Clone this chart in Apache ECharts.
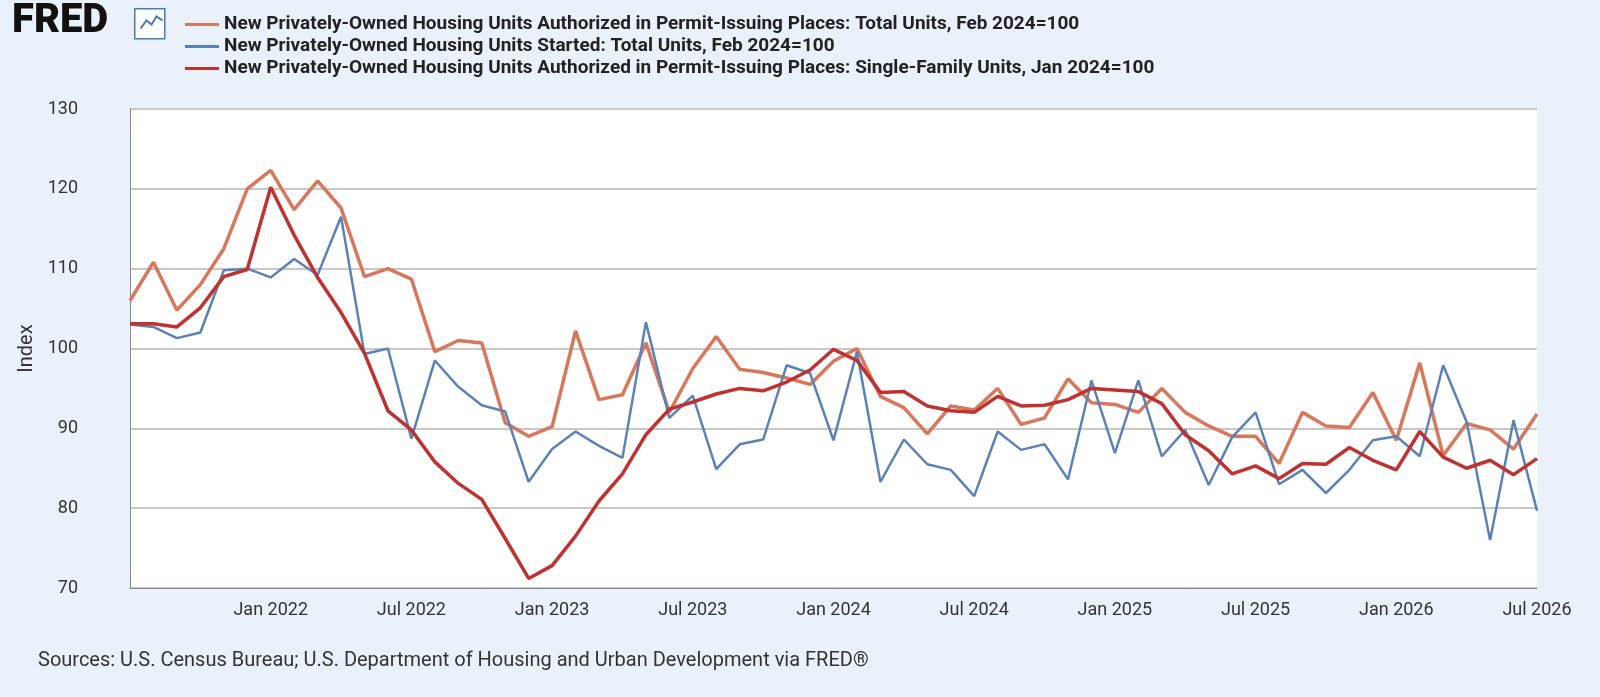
<!DOCTYPE html>
<html><head><meta charset="utf-8">
<script src="https://cdn.jsdelivr.net/npm/echarts@6/dist/echarts.min.js"></script>
<style>html,body{margin:0;padding:0;background:#eaf1fa}#c{width:1600px;height:697px}</style>
</head><body><div id="c"></div>
<script>
const months = ['Jan','Feb','Mar','Apr','May','Jun','Jul','Aug','Sep','Oct','Nov','Dec'];
const categories = [];
for (let y = 2021; y <= 2026; y++) for (let m = 0; m < 12; m++) {
  if ((y === 2021 && m < 6) || (y === 2026 && m > 6)) continue;
  categories.push(months[m] + ' ' + y);
}
const permitsTotal = [106,110.8,104.8,108,112.5,120,122.3,117.4,121,117.6,109,110,108.7,99.6,101,100.7,90.7,89,90.2,102.2,93.6,94.2,100.7,92,97.5,101.5,97.4,97,96.3,95.5,98.4,100,94,92.6,89.3,92.8,92.3,95,90.5,91.3,96.2,93.2,93,92,95,92,90.3,89,89,85.6,92,90.3,90.1,94.5,88.5,98.2,86.6,90.6,89.8,87.4,91.8];
const startsTotal = [103,102.7,101.3,102,109.8,110,108.9,111.2,109.2,116.5,99.3,100,88.7,98.5,95.2,92.9,92.1,83.3,87.4,89.6,87.8,86.3,103.3,91.3,94.1,84.9,88,88.6,97.9,96.9,88.5,99.6,83.3,88.6,85.5,84.8,81.5,89.6,87.3,88,83.6,96,86.9,96,86.5,89.8,82.9,88.9,92,83,84.8,81.9,84.8,88.5,89,86.5,97.9,90.8,76,91,79.7];
const permitsSF = [103.1,103.1,102.7,105.1,109,109.9,120.2,114.2,108.9,104.5,99.4,92.2,89.8,85.8,83.1,81.1,76.2,71.2,72.8,76.5,80.9,84.3,89.2,92.4,93.3,94.3,95,94.7,95.8,97.3,99.9,98.5,94.5,94.6,92.8,92.2,92,94,92.8,92.9,93.6,95,94.8,94.6,93.1,89.2,87.2,84.3,85.3,83.7,85.6,85.5,87.6,86,84.8,89.6,86.4,85,86,84.2,86.2];
const names = ['New Privately-Owned Housing Units Authorized in Permit-Issuing Places: Total Units, Feb 2024=100',
  'New Privately-Owned Housing Units Started: Total Units, Feb 2024=100',
  'New Privately-Owned Housing Units Authorized in Permit-Issuing Places: Single-Family Units, Jan 2024=100'];
const colors = ['#d9775a','#5b82b8','#c0322f'];
const chart = echarts.init(document.getElementById('c'));
const mk = (i, d, w) => ({name: names[i], type:'line', data:d, showSymbol:false, symbol:'none',
  lineStyle:{color:colors[i], width:w}, itemStyle:{color:colors[i]}, z: 3 + (i===2?2:i===0?0:1)});
chart.setOption({
  backgroundColor:'#eaf1fa',
  animation:false,
  textStyle:{fontFamily:'Roboto, sans-serif'},
  legend:{orient:'vertical', left:180, top:10, itemGap:3, itemWidth:34, itemHeight:3,
    icon:'rect', textStyle:{fontSize:19, fontWeight:'bold', color:'#222', fontFamily:'Roboto'},
    data:names, selectedMode:false},
  graphic:[
    {type:'text', left:12, top:2, style:{text:'FRED', font:'900 40px Roboto', fill:'#111'}},
    {type:'rect', left:134, top:8, shape:{width:30, height:30}, style:{fill:'#fff', stroke:'#4a7bb7', lineWidth:1.5}},
    {type:'polyline', left:138, top:14, shape:{points:[[0,18],[6,10],[11,14],[16,6],[22,10]]}, style:{stroke:'#4a7bb7', lineWidth:2, fill:null}},
    {type:'text', left:38, top:651, style:{text:'Sources: U.S. Census Bureau; U.S. Department of Housing and Urban Development via FRED®', font:'20px Roboto', fill:'#333'}}
  ],
  grid:{left:130, right:63, top:109, bottom:109, backgroundColor:'#fff', show:true, borderWidth:0},
  xAxis:{type:'category', data:categories, boundaryGap:false,
    axisLine:{lineStyle:{color:'#888'}}, axisTick:{show:false},
    axisLabel:{interval:(i,v)=>v.startsWith('Jan')||v.startsWith('Jul'), fontSize:18, color:'#333', margin:13,
      showMinLabel:false},
    splitLine:{show:false}},
  yAxis:{type:'value', min:70, max:130, interval:10, name:'Index', nameLocation:'middle', nameGap:80,
    nameTextStyle:{fontSize:20, color:'#333'},
    axisLabel:{fontSize:18, color:'#333', margin:52},
    axisLine:{show:true, lineStyle:{color:'#888'}},
    splitLine:{lineStyle:{color:'#c8c8c8', width:2}}},
  series:[mk(0, permitsTotal, 3.5), mk(1, startsTotal, 2.5), mk(2, permitsSF, 3.5)]
});
</script></body></html>
